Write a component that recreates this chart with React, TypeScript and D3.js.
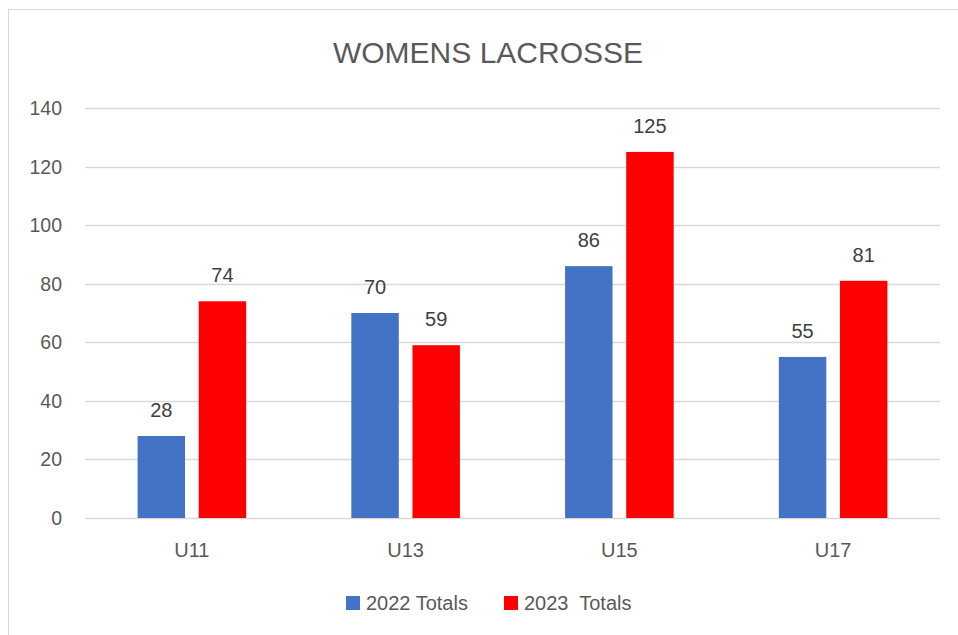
import * as d3 from "d3";

const categories = ["U11", "U13", "U15", "U17"];
const series2022 = [28, 70, 86, 55];
const series2023 = [74, 59, 125, 81];
const seriesNames = ["2022 Totals", "2023  Totals"];
const yTicks = [0, 20, 40, 60, 80, 100, 120, 140];

const colors = ["#4472C4", "#FF0000"];
const textColor = "#595959";
const font = "'Liberation Sans', Arial, sans-serif";

export default function App() {
    const width = 958;
    const height = 635;
    const x = d3.scaleBand().domain(categories).range([85, 940]);
    const y = d3.scaleLinear().domain([0, 140]).range([518, 108]);
    const barW = x.bandwidth() * 0.222;
    const gap = x.bandwidth() * 0.064;
    const series = [series2022, series2023];

    return (
        <svg width={width} height={height} style={{position: "absolute", left: 0, top: 0}}
             fontFamily={font}>
            <rect x={0} y={0} width={width} height={height} fill="#fff"/>
            <line x1={8.5} y1={9} x2={8.5} y2={height} stroke="#d9d9d9"/>
            <line x1={8} y1={9.5} x2={width} y2={9.5} stroke="#d9d9d9"/>
            <text x={488} y={63} textAnchor="middle" fontSize={30} fill={textColor}>WOMENS LACROSSE</text>
            {yTicks.map(t => (
                <g key={t}>
                    <line x1={85} x2={940} y1={Math.round(y(t)) + 0.5} y2={Math.round(y(t)) + 0.5}
                          stroke="#d9d9d9" strokeWidth={1.3}/>
                    <text x={62} y={y(t)} dy="0.36em" textAnchor="end" fontSize={19.5} fill={textColor}>{t}</text>
                </g>
            ))}
            {categories.map((c, i) => {
                const cx = (x(c) ?? 0) + x.bandwidth() / 2;
                return (
                    <g key={c}>
                        {series.map((s, j) => {
                            const bx = j === 0 ? cx - gap / 2 - barW : cx + gap / 2;
                            return (
                                <g key={j}>
                                    <rect x={bx} y={y(s[i])} width={barW} height={y(0) - y(s[i])} fill={colors[j]}/>
                                    <text x={bx + barW / 2} y={y(s[i]) - 19} textAnchor="middle" fontSize={20}
                                          fill="#404040">{s[i]}</text>
                                </g>
                            );
                        })}
                        <text x={cx} y={557} textAnchor="middle" fontSize={20} fill={textColor}>{c}</text>
                    </g>
                );
            })}
            {seriesNames.map((n, j) => (
                <g key={n}>
                    <rect x={j === 0 ? 346 : 504} y={596} width={14} height={14} fill={colors[j]}/>
                    <text x={j === 0 ? 366 : 524} y={610} fontSize={20} fill={textColor}
                          style={{whiteSpace: "pre"}}>{n}</text>
                </g>
            ))}
        </svg>
    );
}
